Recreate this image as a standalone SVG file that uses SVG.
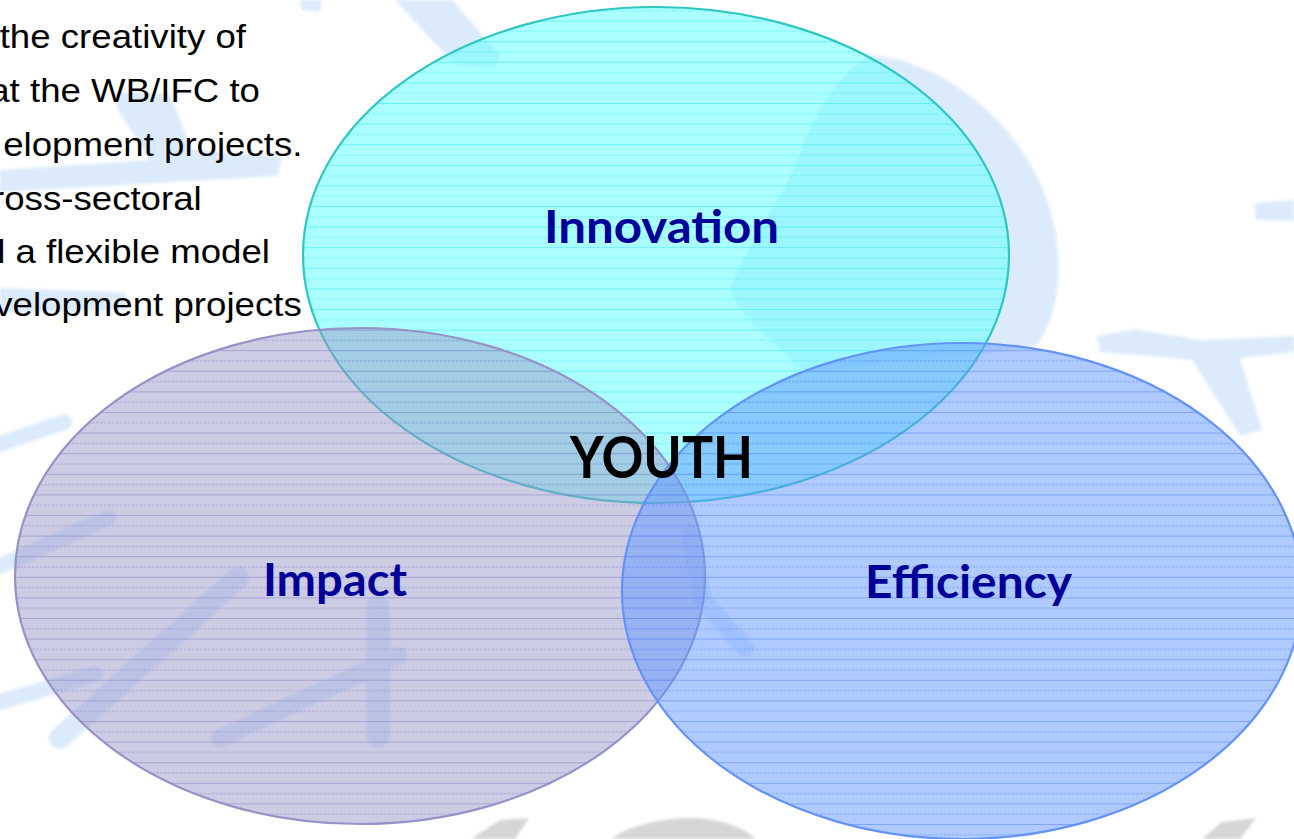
<svg xmlns="http://www.w3.org/2000/svg" width="1294" height="839" viewBox="0 0 1294 839">
<style>
.body{font-family:"Liberation Sans",Arial,sans-serif;font-size:33px;fill:#000}
.lbl{font-family:Lato,"Open Sans","Noto Sans",sans-serif;font-weight:bold;fill:#000099;text-anchor:middle}
.wm{fill:#dcebfc;stroke:none}
.wms{fill:none;stroke:#dcebfc;stroke-linecap:round;stroke-linejoin:round}
.gr{fill:#d6d6d6}
</style>
<defs>
<filter id="soft" x="-10%" y="-10%" width="120%" height="120%"><feGaussianBlur stdDeviation="1.6"/></filter>
<pattern id="pInn" width="8" height="20.6" patternUnits="userSpaceOnUse">
<line x1="0" y1="0.5" x2="8" y2="0.5" stroke="#3ee8f2" stroke-width="1" stroke-opacity="0.6"/>
<line x1="0" y1="10.8" x2="8" y2="10.8" stroke="#3ee8f2" stroke-width="1" stroke-opacity="0.5" stroke-dasharray="3 1"/>
</pattern>
<pattern id="pImp" width="8" height="20.6" patternUnits="userSpaceOnUse">
<line x1="0" y1="0.5" x2="8" y2="0.5" stroke="#8a88c4" stroke-width="1" stroke-opacity="0.6"/>
<line x1="0" y1="10.8" x2="8" y2="10.8" stroke="#8a88c4" stroke-width="1" stroke-opacity="0.5" stroke-dasharray="3 1"/>
</pattern>
<pattern id="pEff" width="8" height="20.6" patternUnits="userSpaceOnUse">
<line x1="0" y1="0.5" x2="8" y2="0.5" stroke="#5f8cf5" stroke-width="1" stroke-opacity="0.6"/>
<line x1="0" y1="10.8" x2="8" y2="10.8" stroke="#5f8cf5" stroke-width="1" stroke-opacity="0.5" stroke-dasharray="3 1"/>
</pattern>
</defs>
<rect width="1294" height="839" fill="#ffffff"/>
<g id="watermark" filter="url(#soft)">
<path class="wm" d="M395,0 L452,0 L500,55 L495,68 L455,65 Z"/>
<path class="wm" d="M115,92 L170,94 L192,150 L282,156 L278,176 L0,192 L0,170 L150,160 L118,110 Z"/>
<path class="wm" d="M0,288 L125,292 L128,310 L0,313 Z"/>
<path class="wm" d="M300,0 L322,0 L320,12 L302,10 Z"/>
<path class="wm" d="M870,55 C960,62 1050,150 1058,250 C1062,300 1048,330 1036,346 L990,352 L800,372 C780,342 742,322 730,290 C742,252 782,202 800,152 C820,102 842,72 870,55 Z"/>
<path class="wm" d="M1255,203 L1294,200 L1294,221 L1255,220 Z"/>
<path class="wm" d="M1097,336 L1135,329 L1200,340 L1294,336 L1294,352 L1240,358 L1262,430 L1240,436 L1192,360 L1100,352 Z"/>
<path class="wms" stroke-width="16" d="M0,444 L64,422"/>
<path class="wms" stroke-width="16" d="M0,566 L108,518"/>
<path class="wms" stroke-width="22" d="M60,738 L238,578"/>
<path class="wms" stroke-width="16" d="M0,702 L95,674"/>
<path class="wms" stroke-width="18" d="M220,738 L398,656"/>
<path class="wms" stroke-width="24" d="M378,608 L378,735"/>
<path class="wms" stroke-width="18" d="M690,535 L702,600 L745,648"/>
<path class="gr" d="M471,839 L500,820 L529,818 L515,839 Z"/>
<path class="gr" d="M611,839 C630,825 665,818 690,818 C720,818 745,828 756,839 Z"/>
<path class="gr" d="M1202,839 L1222,822 L1256,818 L1240,839 Z"/>
</g>
<g id="innovation">
<ellipse cx="656" cy="255" rx="353" ry="248" fill="#66ffff" fill-opacity="0.54"/>
<ellipse cx="656" cy="255" rx="353" ry="248" fill="url(#pInn)" stroke="#2ec6c2" stroke-width="2.2"/>
<text class="lbl" x="661.5" y="243" font-size="46" textLength="235" lengthAdjust="spacingAndGlyphs">Innovation</text>
</g>
<g id="impact">
<ellipse cx="360" cy="576" rx="345" ry="248" fill="#9999cc" fill-opacity="0.5"/>
<ellipse cx="360" cy="576" rx="345" ry="248" fill="url(#pImp)" stroke="#9592c8" stroke-width="2.2"/>
<text class="lbl" x="335" y="596" font-size="45" textLength="144" lengthAdjust="spacingAndGlyphs">Impact</text>
</g>
<g id="efficiency">
<ellipse cx="962" cy="591" rx="340" ry="248" fill="#6699ff" fill-opacity="0.52"/>
<ellipse cx="962" cy="591" rx="340" ry="248" fill="url(#pEff)" stroke="#6392f8" stroke-width="2.2"/>
<text class="lbl" x="968.5" y="598" font-size="46" textLength="207" lengthAdjust="spacingAndGlyphs">Efficiency</text>
</g>
<g id="youth">
<text class="lbl" x="661.5" y="478" font-size="58" style="fill:#000" textLength="183" lengthAdjust="spacingAndGlyphs">YOUTH</text>
</g>
<g id="intro" transform="scale(1.11,1)" text-anchor="end">
<text class="body" x="221.6" y="48">the creativity of</text>
<text class="body" x="234.2" y="102">at the WB/IFC to</text>
<text class="body" x="272.5" y="156">elopment projects.</text>
<text class="body" x="181.7" y="210">ross-sectoral</text>
<text class="body" x="243.2" y="263">l a flexible model</text>
<text class="body" x="271.8" y="316">velopment projects</text>
</g>
</svg>
